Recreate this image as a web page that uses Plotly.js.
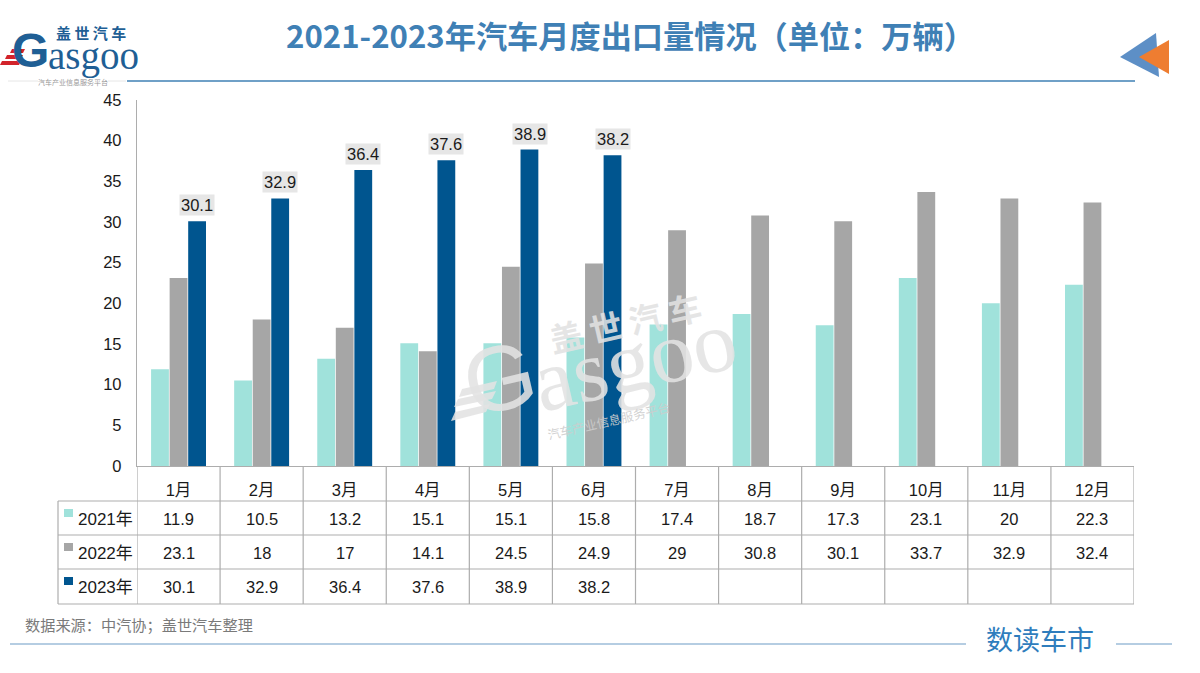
<!DOCTYPE html>
<html><head><meta charset="utf-8">
<script src="https://cdn.plot.ly/plotly-3.0.1.min.js"></script>
<style>html,body{margin:0;padding:0;background:#fff}#c{width:1200px;height:673px}</style>
</head><body><div id="c"></div>
<script>
const months = ['1月','2月','3月','4月','5月','6月','7月','8月','9月','10月','11月','12月'];
const seriesNames = ['2021年','2022年','2023年'];
const seriesColors = ['#a0e2db','#a6a6a6','#00558f'];
const v2021 = [11.9,10.5,13.2,15.1,15.1,15.8,17.4,18.7,17.3,23.1,20,22.3];
const v2022 = [23.1,18,17,14.1,24.5,24.9,29,30.8,30.1,33.7,32.9,32.4];
const v2023 = [30.1,32.9,36.4,37.6,38.9,38.2];
const yTicks = [0,5,10,15,20,25,30,35,40,45];
const titleText = '2021-2023年汽车月度出口量情况（单位：万辆）';
const sourceText = '数据来源：中汽协；盖世汽车整理';

const L=137,R=1134,T=100,B=466,W=1200,H=673;
const FONT='"Liberation Sans","Noto Sans CJK SC",sans-serif';
const CJK='"Noto Sans CJK SC",sans-serif';
const px=x=>(x-L)/(R-L), py=y=>(B-y)/(B-T);
const allSeries=[v2021,v2022,v2023];
const traces=allSeries.map((v,i)=>({type:'bar',name:seriesNames[i],x:months.slice(0,v.length),y:v,
  marker:{color:seriesColors[i]},hoverinfo:'x+y'}));

const grid='#adadad';
const shapes=[], annotations=[];
const hline=(x0,x1,y,c,w)=>shapes.push({type:'line',xref:'paper',yref:'paper',x0:px(x0),x1:px(x1),y0:py(y),y1:py(y),line:{color:c,width:w}});
const poly=(pts,c)=>shapes.push({type:'path',xref:'paper',yref:'paper',
  path:'M'+pts.map(p=>px(p[0])+','+py(p[1])).join('L')+'Z',fillcolor:c,line:{width:0}});
const txt=(t,x,y,size,color,o={})=>annotations.push(Object.assign({text:t,xref:'paper',yref:'paper',x:px(x),y:py(y),
  showarrow:false,xanchor:'center',yanchor:'middle',font:{family:FONT,size:size,color:color}},o));

// table grid
[501,535,569,604].forEach(y=>hline(58,R,y,grid,1.2));
for(let i=0;i<=months.length;i++){
  shapes.push({type:'line',xref:'x',yref:'paper',x0:i-0.5,x1:i-0.5,y0:py(B),y1:py(604),line:{color:grid,width:1.2}});
}
shapes.push({type:'line',xref:'paper',yref:'paper',x0:px(58),x1:px(58),y0:py(501),y1:py(604),line:{color:grid,width:1.2}});

// table rows
const rowY=[518,552,586];
allSeries.forEach((v,r)=>{
  poly([[64,rowY[r]-9],[73,rowY[r]-9],[73,rowY[r]-1],[64,rowY[r]-1]],seriesColors[r]);
  txt(seriesNames[r],105.5,rowY[r]+1,17,'#1a1a1a');
  v.forEach((val,i)=>annotations.push({text:String(val),xref:'x',yref:'paper',x:i,y:py(rowY[r]+1),showarrow:false,
    xanchor:'center',yanchor:'middle',font:{family:FONT,size:16.5,color:'#1a1a1a'}}));
});

// labels over 2023 bars
v2023.forEach((val,i)=>annotations.push({text:String(val),xref:'x',yref:'y',x:i+0.225,y:val,yshift:16,showarrow:false,
  xanchor:'center',yanchor:'middle',bgcolor:'#e6e6e6',borderpad:1,font:{family:FONT,size:16.5,color:'#1a1a1a'}}));

// header and footer
txt(titleText,630,35,31.2,'#3f80b5',{font:{family:CJK,size:31.2,color:'#3f80b5',weight:700}});
hline(127,1135,81,'#3f80b5',1.3);
hline(8,38,81,'#e6e6e6',1); hline(108,126,81,'#e6e6e6',1);
txt('汽车产业信息服务平台',73,82,7,'#999999',{font:{family:CJK,size:7,color:'#999999'}});
txt(sourceText,23,624,15.2,'#7a7a7a',{xanchor:'left',font:{family:CJK,size:15.2,color:'#7a7a7a'}});
hline(10,966,644,'#9dbcd8',1.5); hline(1116,1172,644,'#9dbcd8',1.5);
txt('数读车市',1040,638,27,'#2f7dbd',{font:{family:CJK,size:27,color:'#2f7dbd',weight:400}});
poly([[1120,57],[1156,33],[1159,77]],'#5d8fc6');
poly([[1139,57],[1169,40],[1169,74]],'#ee7d31');

// logo
txt('盖 世 汽 车',91,32,15,'#1f5f95',{font:{family:CJK,size:15,color:'#1f5f95',weight:700}});
txt('G',30,51,48,'#1f5f95',{font:{family:'"Liberation Sans",sans-serif',size:48,color:'#1f5f95',weight:700}});
txt('asgoo',93,55.5,39,'#1f5f95',{font:{family:'"Liberation Serif",serif',size:39,color:'#1f5f95'}});
[[10,25,49],[5,23,55],[0,21,61]].forEach(s=>{
  poly([[s[0]+2,s[2]],[s[1],s[2]],[s[1]-2,s[2]+4],[s[0],s[2]+4]],'#d2232a');
});

// watermark
const wm='rgba(226,226,226,0.88)';
const ang=-13;
txt('盖 世 汽 车',625,322,33,wm,{textangle:ang,font:{family:CJK,size:33,color:wm,weight:700}});
txt('G',500,378,92,wm,{textangle:ang,font:{family:'"Liberation Sans",sans-serif',size:92,color:wm}});
txt('asgoo',634,360,88,wm,{textangle:ang,font:{family:'"Liberation Serif",serif',size:88,color:wm}});
txt('汽车产业信息服务平台',608,420,12.5,wm,{textangle:ang,font:{family:CJK,size:12.5,color:'rgba(205,205,205,0.9)'}});
poly([[462,389],[497,381],[494,389],[459,397]],wm);
poly([[458,399],[496,391],[492,399],[454,407]],wm);
poly([[455,412],[490,404],[486,412],[451,421]],wm);

const layout={width:W,height:H,margin:{l:L,r:W-R,t:T,b:H-B,pad:0},paper_bgcolor:'#fff',plot_bgcolor:'#fff',
  showlegend:false,barmode:'group',bargap:0.33,bargroupgap:0.04,
  font:{family:FONT,size:16,color:'#1a1a1a'},
  xaxis:{type:'category',categoryorder:'array',categoryarray:months,tickvals:months,ticktext:months,range:[-0.5,11.5],
    ticks:'',showline:true,linecolor:grid,linewidth:1.2,showgrid:false,zeroline:false,ticklabelstandoff:9,tickfont:{size:16.5,family:FONT,color:'#1a1a1a'}},
  yaxis:{range:[0,45],tickvals:yTicks,ticktext:yTicks.map(String),ticks:'',showline:true,linecolor:grid,linewidth:1.2,showgrid:false,zeroline:false,
    ticklabelstandoff:11,tickfont:{size:16.5,family:FONT,color:'#1a1a1a'}},
  shapes:shapes,annotations:annotations};
Plotly.newPlot('c',traces,layout,{displayModeBar:false,staticPlot:true});
</script></body></html>
